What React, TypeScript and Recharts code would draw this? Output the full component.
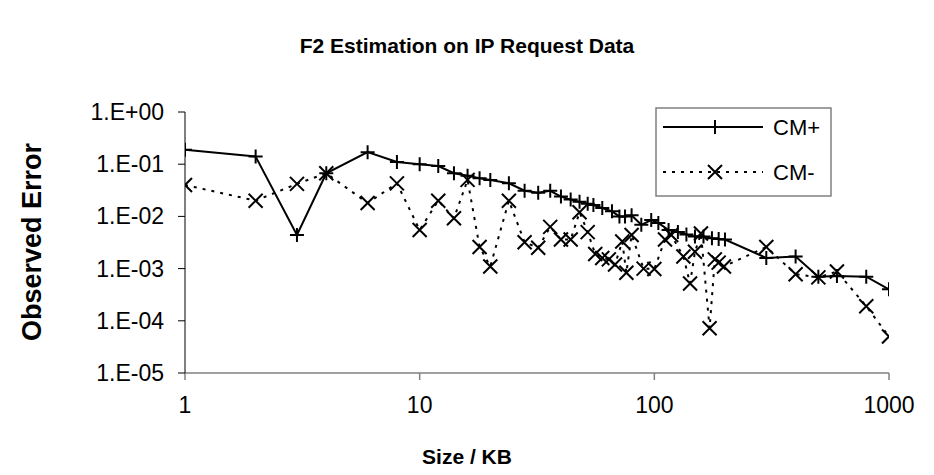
import { LineChart, Line, XAxis, YAxis } from "recharts";

const plusSizes = [
  1, 2, 3, 4, 6, 8, 10, 12, 14, 16, 18, 20, 24, 28, 32, 36, 40, 44, 48, 52, 55,
  60, 66, 71, 75, 80, 88, 97, 104, 115, 126, 137, 149, 162, 176, 188, 200, 300,
  400, 500, 600, 800, 1000,
];
const plusErrors = [
  0.19, 0.14, 0.0044, 0.067, 0.17, 0.11, 0.1, 0.092, 0.067, 0.06, 0.054, 0.05,
  0.043, 0.031, 0.0285, 0.031, 0.024, 0.021, 0.019, 0.0175, 0.0165, 0.0145,
  0.0125, 0.01, 0.01, 0.0105, 0.0069, 0.0085, 0.0075, 0.0055, 0.005, 0.0045,
  0.0041, 0.0041, 0.0038, 0.0037, 0.0036, 0.0016, 0.0017, 0.0007, 0.00072,
  0.0007, 0.0004,
];

const minusSizes = [
  1, 2, 3, 4, 6, 8, 10, 12, 14, 16, 18, 20, 24, 28, 32, 36, 40, 44, 48, 52, 56,
  60, 64, 68, 73, 76, 80, 90, 100, 111, 118, 133, 142, 149, 158, 172, 181, 188,
  198, 300, 400, 500, 600, 800, 1000,
];
const minusErrors = [
  0.04, 0.02, 0.042, 0.067, 0.018, 0.043, 0.0055, 0.02, 0.0092, 0.05, 0.0026,
  0.0011, 0.02, 0.0032, 0.0025, 0.0063, 0.0036, 0.0036, 0.012, 0.005, 0.0019,
  0.0016, 0.0015, 0.0012, 0.0033, 0.00083, 0.0044, 0.001, 0.00098, 0.0036,
  0.0044, 0.0017, 0.00052, 0.0021, 0.0047, 0.000072, 0.0015, 0.0013, 0.0011,
  0.0026, 0.00078, 0.00068, 0.00088, 0.00019, 0.00005,
];

const xTicks = [1, 10, 100, 1000];
const yTicks = [1e-5, 1e-4, 1e-3, 1e-2, 1e-1, 1];
const seriesNames = ["CM+", "CM-"];

const plusData = plusSizes.map((size, i) => ({ size, err: plusErrors[i] }));
const minusData = minusSizes.map((size, i) => ({ size, err: minusErrors[i] }));

const FONT = "'Liberation Sans', Arial, sans-serif";

function fmtExp(v: number) {
  const e = Math.round(Math.log10(v));
  return `1.E${e >= 0 ? "+" : "-"}${String(Math.abs(e)).padStart(2, "0")}`;
}

function plusPath(cx: number, cy: number) {
  return `M${cx - 7},${cy}H${cx + 7}M${cx},${cy - 7}V${cy + 7}`;
}
function crossPath(cx: number, cy: number) {
  return `M${cx - 7},${cy - 7}L${cx + 7},${cy + 7}M${cx - 7},${cy + 7}L${cx + 7},${cy - 7}`;
}

const PlusDot = (p: any) => {
  if (p.cx == null || p.cy == null) return null;
  return (
    <path key={p.key ?? `p${p.index}`} d={plusPath(p.cx, p.cy)}
      stroke="#000" strokeWidth={2} fill="none" strokeDasharray="none" />
  );
};
const CrossDot = (p: any) => {
  if (p.cx == null || p.cy == null) return null;
  return (
    <path key={p.key ?? `m${p.index}`} d={crossPath(p.cx, p.cy)}
      stroke="#000" strokeWidth={2} fill="none" strokeDasharray="none" />
  );
};

// legend drawn as an overlay so it does not push the plot area down
const LegendBox = () => (
  <svg width={177} height={90} style={{ position: "absolute", left: 655, top: 107 }}>
    <rect x={1} y={1} width={175} height={88} fill="#fff" stroke="#808080" strokeWidth={1.5} />
    <line x1={8} y1={20} x2={108} y2={20} stroke="#000" strokeWidth={2} />
    <path d={plusPath(60, 20)} stroke="#000" strokeWidth={2} />
    <text x={118} y={28} fontFamily={FONT} fontSize={22}>{seriesNames[0]}</text>
    <line x1={8} y1={65} x2={108} y2={65} stroke="#000" strokeWidth={2} strokeDasharray="3 6" />
    <path d={crossPath(60, 65)} stroke="#000" strokeWidth={2} />
    <text x={118} y={73} fontFamily={FONT} fontSize={22}>{seriesNames[1]}</text>
  </svg>
);

const XTick = (p: any) => (
  <text x={p.x} y={p.y + 31} textAnchor="middle" fontFamily={FONT} fontSize={23} fill="#000">
    {p.payload.value}
  </text>
);
const YTick = (p: any) => (
  <text x={p.x - 12} y={p.y + 8} textAnchor="end" fontFamily={FONT} fontSize={23} fill="#000">
    {fmtExp(p.payload.value)}
  </text>
);

export default function App() {
  return (
    <div style={{ position: "absolute", left: 0, top: 0, width: 934, height: 475, background: "#fff" }}>
      <div style={{ position: "absolute", left: 0, top: 34, width: 934, textAlign: "center",
        fontFamily: FONT, fontWeight: "bold", fontSize: 21 }}>
        F2 Estimation on IP Request Data
      </div>
      <div style={{ position: "absolute", left: 0, top: 445, width: 934, textAlign: "center",
        fontFamily: FONT, fontWeight: "bold", fontSize: 21 }}>
        Size / KB
      </div>
      <div style={{ position: "absolute", left: 32, top: 242, transform: "translate(-50%, -50%) rotate(-90deg)",
        whiteSpace: "nowrap", fontFamily: FONT, fontWeight: "bold", fontSize: 27 }}>
        Observed Error
      </div>
      <LineChart width={934} height={475} margin={{ top: 112, right: 45, left: 0, bottom: 0 }}
        style={{ position: "absolute", left: 0, top: 0 }}>
        <XAxis type="number" dataKey="size" scale="log" domain={[1, 1000]} ticks={xTicks}
          allowDataOverflow height={102} stroke="#808080" strokeWidth={1.5}
          tickSize={7} tick={<XTick />} interval={0} />
        <YAxis type="number" dataKey="err" scale="log" domain={[1e-5, 1]} ticks={yTicks}
          allowDataOverflow width={185} stroke="#000" tickSize={7} tick={<YTick />} interval={0} />
        <Line data={plusData} dataKey="err" name={seriesNames[0]} type="linear" stroke="#000"
          strokeWidth={2} dot={PlusDot} activeDot={false} isAnimationActive={false} />
        <Line data={minusData} dataKey="err" name={seriesNames[1]} type="linear" stroke="#000"
          strokeWidth={2} strokeDasharray="3 6" dot={CrossDot} activeDot={false} isAnimationActive={false} />
      </LineChart>
      <LegendBox />
    </div>
  );
}
